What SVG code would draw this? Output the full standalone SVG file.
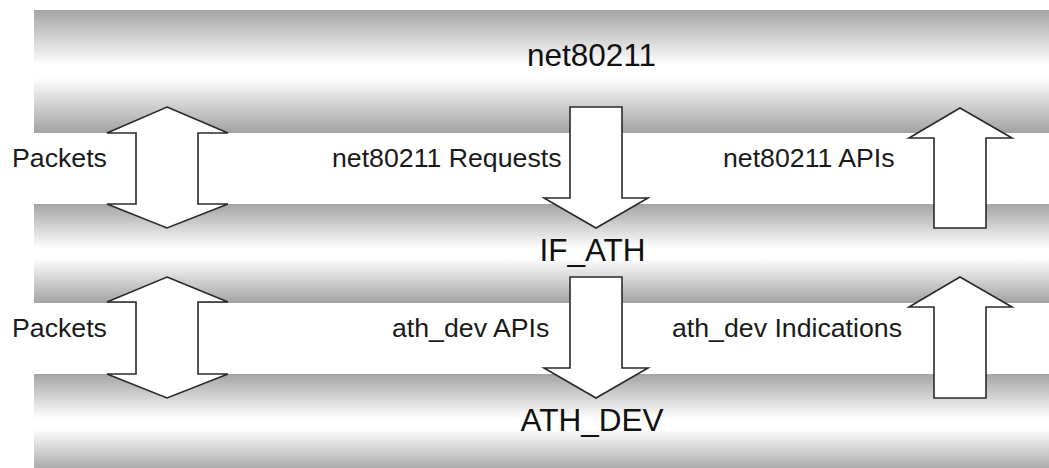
<svg xmlns="http://www.w3.org/2000/svg" width="1049" height="468" viewBox="0 0 1049 468">
  <defs>
    <!-- metallic bar shading: grey edges, white centre -->
    <linearGradient id="bar" x1="0" y1="0" x2="0" y2="1">
      <stop offset="0" stop-color="#a4a4a4"/>
      <stop offset="0.45" stop-color="#ffffff"/>
      <stop offset="0.55" stop-color="#ffffff"/>
      <stop offset="1" stop-color="#a2a2a2"/>
    </linearGradient>
  </defs>
  <style>
    .bar { fill: url(#bar); }
    .layer { font-family: "Liberation Sans", Arial, sans-serif; font-size: 31.5px; fill: #111; text-anchor: middle; }
    .lbl { font-family: "Liberation Sans", Arial, sans-serif; font-size: 26.7px; fill: #1a1a1a; }
    .arrow { fill: #ffffff; stroke: #2a2a2a; stroke-width: 1.6; stroke-linejoin: miter; }
  </style>

  <rect width="1049" height="468" fill="#ffffff"/>

  <!-- layers -->
  <g id="net80211">
    <rect class="bar" x="34" y="10" width="1015" height="123"/>
    <text class="layer" x="591.5" y="66">net80211</text>
  </g>
  <g id="if_ath">
    <rect class="bar" x="34" y="204" width="1015" height="99"/>
    <text class="layer" x="592.5" y="261">IF_ATH</text>
  </g>
  <g id="ath_dev">
    <rect class="bar" x="34" y="374" width="1015" height="99"/>
    <text class="layer" x="592" y="431">ATH_DEV</text>
  </g>

  <!-- interfaces between layers -->
  <g id="connectors">
    <!-- net80211 <-> IF_ATH -->
    <polygon class="arrow" points="167,107 228,133 198,133 198,204 228,204 167,228 107,204 136,204 136,133 107,133"/>
    <polygon class="arrow" points="570,107 622,107 622,198 648,198 596,228 544,198 570,198"/>
    <polygon class="arrow" points="960,108 1012,138 986,138 986,228 934,228 934,138 909,138"/>
    <!-- IF_ATH <-> ATH_DEV -->
    <polygon class="arrow" points="167,277 228,302 198,302 198,374 228,374 167,398 107,374 136,374 136,302 107,302"/>
    <polygon class="arrow" points="570,277 622,277 622,368 648,368 596,398 544,368 570,368"/>
    <polygon class="arrow" points="960,277 1012,307 986,307 986,398 934,398 934,307 909,307"/>

    <text class="lbl" x="12" y="167">Packets</text>
    <text class="lbl" x="332" y="167">net80211 Requests</text>
    <text class="lbl" x="723" y="167">net80211 APIs</text>
    <text class="lbl" x="12" y="337">Packets</text>
    <text class="lbl" x="392" y="337">ath_dev APIs</text>
    <text class="lbl" x="672" y="337">ath_dev Indications</text>
  </g>
</svg>
